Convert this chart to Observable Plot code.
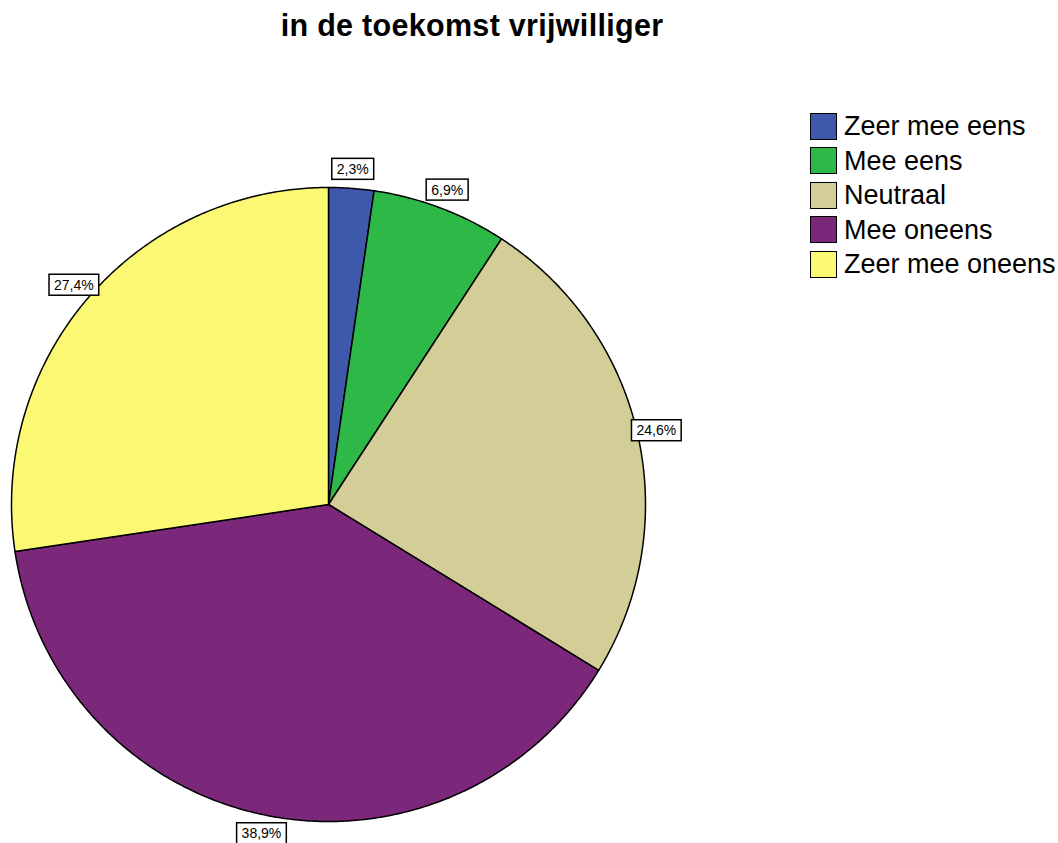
<!DOCTYPE html>
<html><head><meta charset="utf-8">
<script src="https://cdn.jsdelivr.net/npm/d3@7"></script>
<script src="https://cdn.jsdelivr.net/npm/@observablehq/plot@0.6"></script>
<style>
body{margin:0;background:#fff;font-family:"Liberation Sans",Arial,Helvetica,sans-serif;}
#wrap{position:relative;width:1058px;height:843px;overflow:hidden}
#title{position:absolute;left:0;width:944px;top:10px;text-align:center;font-weight:bold;font-size:30.5px;line-height:31px;letter-spacing:0.3px;z-index:2}
#legend{position:absolute;left:810px;top:112px;z-index:2}
.item{display:flex;align-items:center;height:28px;margin-bottom:6.5px}
.sw{width:25px;height:25px;border:1.5px solid #000;margin-right:7px;flex:none}
.item span{font-size:27px;line-height:28px;white-space:nowrap}
#chart{position:absolute;left:0;top:0}
</style>
</head><body>
<div id="wrap">
<div id="title">in de toekomst vrijwilliger</div>
<div id="legend"></div>
<div id="chart"></div>
</div>
<script>
const categories = ["Zeer mee eens", "Mee eens", "Neutraal", "Mee oneens", "Zeer mee oneens"];
const percentages = [2.3, 6.9, 24.6, 38.9, 27.4];
const colors = ["#3E58AC", "#2EB848", "#D3CE97", "#7B287B", "#FBF873"];

const total = d3.sum(percentages);
const slices = [];
const labels = [];
let acc = 0;
categories.forEach((c, i) => {
  const a0 = acc / total * 2 * Math.PI;
  acc += percentages[i];
  const a1 = acc / total * 2 * Math.PI;
  const n = Math.max(2, Math.ceil((a1 - a0) / (Math.PI / 360)));
  slices.push({cat: c, x: 0, y: 0});
  for (let k = 0; k <= n; k++) {
    const a = a0 + (a1 - a0) * k / n;
    slices.push({cat: c, x: Math.sin(a), y: Math.cos(a)});
  }
  slices.push({cat: c, x: 0, y: 0});
  const am = (a0 + a1) / 2;
  const r = 1.06;
  labels.push({cat: c, x: r * Math.sin(am), y: r * Math.cos(am),
    text: percentages[i].toFixed(1).replace(".", ",") + "%"});
});

const plot = Plot.plot({
  width: 1058, height: 843,
  margin: 0,
  x: {domain: [-1, 1], range: [11, 645], axis: null},
  y: {domain: [-1, 1], range: [821, 187], axis: null},
  color: {domain: categories, range: colors},
  style: {background: "transparent", overflow: "visible"},
  marks: [
    Plot.line(slices, {x: "x", y: "y", z: "cat", fill: "cat", stroke: "#000", strokeWidth: 1.5, strokeLinejoin: "round", curve: "linear"}),
    Plot.text(labels, {x: "x", y: "y", text: "text", fontSize: 14, fill: "#000", fontFamily: "Liberation Sans, Arial, sans-serif", className: "lbl"})
  ]
});
document.getElementById("chart").appendChild(plot);

// boxes around the percentage labels
d3.select(plot).selectAll(".lbl text").each(function() {
  const b = this.getBBox();
  const cy = b.y + b.height / 2;
  const rect = d3.select(this.parentNode).insert("rect", () => this)
    .attr("x", b.x - 5).attr("y", cy - 10.5)
    .attr("width", b.width + 10).attr("height", 21)
    .attr("fill", "#fff").attr("stroke", "#000").attr("stroke-width", 1.5);
  const t = this.getAttribute("transform");
  if (t) rect.attr("transform", t);
});

const legend = d3.select("#legend");
categories.forEach((c, i) => {
  const it = legend.append("div").attr("class", "item");
  it.append("div").attr("class", "sw").style("background", colors[i]);
  it.append("span").text(c);
});
</script>
</body></html>
